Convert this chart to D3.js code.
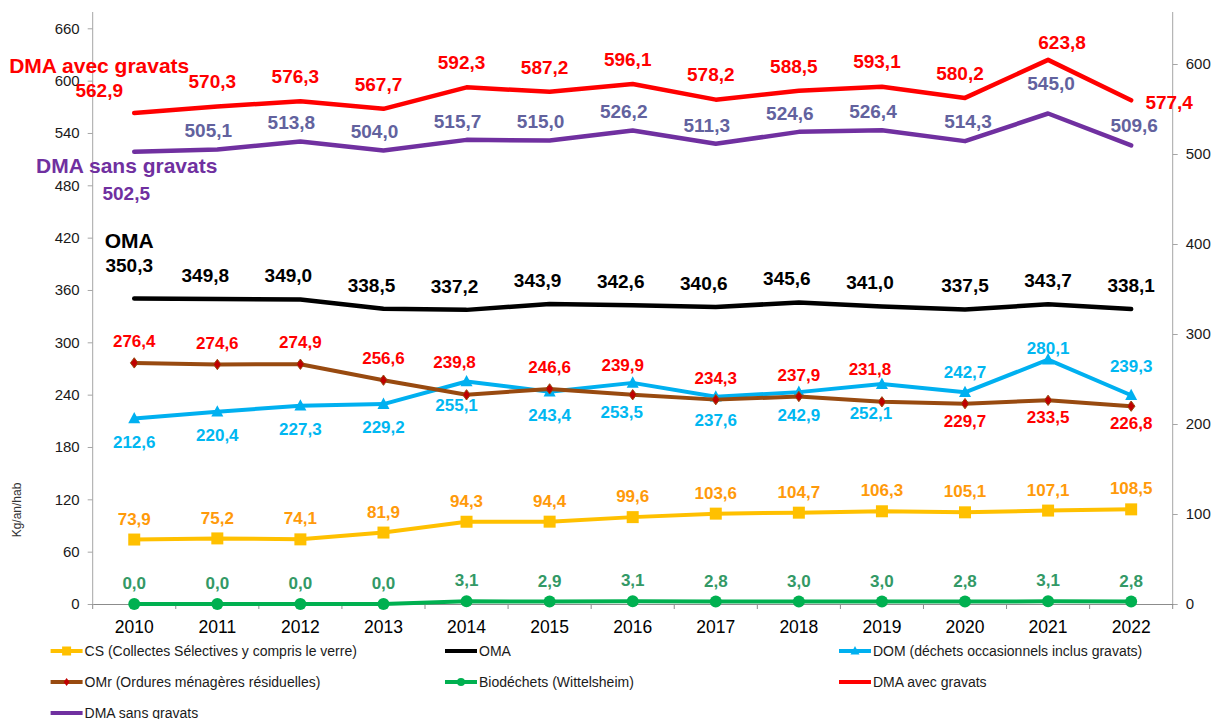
<!DOCTYPE html>
<html><head><meta charset="utf-8">
<script src="https://cdn.jsdelivr.net/npm/d3@7"></script>
<style>body{margin:0;background:#fff}svg{display:block;font-family:Arial,"Liberation Sans",sans-serif}</style>
</head><body><svg id="c" width="1213" height="719"></svg>
<script>
const years = [2010,2011,2012,2013,2014,2015,2016,2017,2018,2019,2020,2021,2022];
const dmaAvec = [562.9,570.3,576.3,567.7,592.3,587.2,596.1,578.2,588.5,593.1,580.2,623.8,577.4];
const dmaSans = [502.5,505.1,513.8,504.0,515.7,515.0,526.2,511.3,524.6,526.4,514.3,545.0,509.6];
const oma = [350.3,349.8,349.0,338.5,337.2,343.9,342.6,340.6,345.6,341.0,337.5,343.7,338.1];
const omr = [276.4,274.6,274.9,256.6,239.8,246.6,239.9,234.3,237.9,231.8,229.7,233.5,226.8];
const dom = [212.6,220.4,227.3,229.2,255.1,243.4,253.5,237.6,242.9,252.1,242.7,280.1,239.3];
const cs = [73.9,75.2,74.1,81.9,94.3,94.4,99.6,103.6,104.7,106.3,105.1,107.1,108.5];
const bio = [0,0,0,0,3.1,2.9,3.1,2.8,3.0,3.0,2.8,3.1,2.8];
const leftTicks = [0,60,120,180,240,300,360,420,480,540,600,660];
const rightTicks = [0,100,200,300,400,500,600];
const seriesNames = {
  cs: "CS (Collectes Sélectives y compris le verre)",
  oma: "OMA",
  dom: "DOM (déchets occasionnels inclus gravats)",
  omr: "OMr (Ordures ménagères résiduelles)",
  bio: "Biodéchets (Wittelsheim)",
  dmaAvec: "DMA avec gravats",
  dmaSans: "DMA sans gravats"
};
const yTitle = "Kg/an/hab";

const svg = d3.select("#c");
const L = 92.7, R = 1172.7, T = 12, B = 604;
const x = d3.scaleBand().domain(years).range([L, R]);
const cx = yr => x(yr) + x.bandwidth()/2;
const yL = d3.scaleLinear().domain([0,660]).range([B, 28.3]);
const yR = d3.scaleLinear().domain([0,600]).range([B, 64]);
const fmt = v => d3.format(".1f")(v).replace(".", ",");
const axisCol = "#a6a6a6";

// Axes
const gl = svg.append("g").attr("transform", `translate(${L},0)`)
  .call(d3.axisLeft(yL).tickValues(leftTicks).tickSize(5).tickPadding(8).tickSizeOuter(0));
const gr = svg.append("g").attr("transform", `translate(${R},0)`)
  .call(d3.axisRight(yR).tickValues(rightTicks).tickSize(5).tickPadding(8).tickSizeOuter(0));
[gl, gr].forEach(g => {
  g.select(".domain").remove();
  g.selectAll(".tick line").attr("stroke", axisCol);
  g.selectAll(".tick text").attr("font-size", 15).attr("fill", "#1a1a1a").attr("font-family", "Arial, Liberation Sans, sans-serif");
});
svg.append("line").attr("x1", L).attr("x2", L).attr("y1", T).attr("y2", B).attr("stroke", axisCol);
svg.append("line").attr("x1", R).attr("x2", R).attr("y1", T).attr("y2", B).attr("stroke", axisCol);

const gx = svg.append("g").attr("transform", `translate(0,${B})`)
  .call(d3.axisBottom(x).tickSize(0).tickPadding(17).tickSizeOuter(0));
gx.select(".domain").attr("stroke", "#8c8c8c");
gx.selectAll(".tick text").attr("font-size", 17.5).attr("fill", "#000").attr("font-family", "Arial, Liberation Sans, sans-serif");
// category boundary ticks
svg.append("g").selectAll("line").data(years.concat(["end"])).join("line")
  .attr("x1", (d,i) => L + i*x.bandwidth()).attr("x2", (d,i) => L + i*x.bandwidth())
  .attr("y1", B).attr("y2", B+5).attr("stroke", "#8c8c8c");

svg.append("text").attr("transform", "translate(21,510) rotate(-90)")
  .attr("text-anchor", "middle").attr("font-size", 12).attr("fill", "#333").text(yTitle);

// Series definitions
const series = [
  {key:"cs", data:cs, y:yL, color:"#ffc000", w:4, marker:"square", lab:"#ff9a0a", fs:17},
  {key:"oma", data:oma, y:yL, color:"#000000", w:4.5, marker:null, lab:"#000000", fs:19},
  {key:"dom", data:dom, y:yL, color:"#00b0f0", w:4, marker:"triangle", lab:"#00b7f1", fs:17},
  {key:"omr", data:omr, y:yL, color:"#984a10", w:4, marker:"diamond", lab:"#ff0000", fs:17},
  {key:"bio", data:bio, y:yL, color:"#00b050", w:4, marker:"circle", lab:"#339966", fs:17},
  {key:"dmaAvec", data:dmaAvec, y:yL, color:"#ff0000", w:4.5, marker:null, lab:"#ff0000", fs:19},
  {key:"dmaSans", data:dmaSans, y:yR, color:"#7030a0", w:4.5, marker:null, lab:"#62629e", fs:19}
];

function markerPath(type, size) {
  const s = size/2;
  if (type === "square") return `M${-s},${-s}H${s}V${s}H${-s}Z`;
  if (type === "triangle") return `M0,${-s*1.1}L${s},${s*0.8}L${-s},${s*0.8}Z`;
  if (type === "diamond") return `M0,${-s*1.15}L${s*0.85},0L0,${s*1.15}L${-s*0.85},0Z`;
  if (type === "circle") return d3.symbol(d3.symbolCircle, Math.PI*s*s)();
  return "";
}
const markerSize = {square:12, triangle:12, diamond:9, circle:12};

const order = ["cs","oma","dom","omr","bio","dmaAvec","dmaSans"];
order.forEach(k => {
  const s = series.find(d => d.key === k);
  const line = d3.line().x((d,i) => cx(years[i])).y(d => s.y(d));
  svg.append("path").datum(s.data).attr("d", line)
    .attr("fill", "none").attr("stroke", s.color).attr("stroke-width", s.w)
    .attr("stroke-linejoin", "round").attr("stroke-linecap", "round");
  if (s.marker) {
    svg.append("g").selectAll("path").data(s.data).join("path")
      .attr("transform", (d,i) => `translate(${cx(years[i])},${s.y(d)})`)
      .attr("d", markerPath(s.marker, markerSize[s.marker]))
      .attr("fill", s.marker === "diamond" ? "#c00000" : s.color)
      .attr("stroke", s.marker === "diamond" ? "#984a10" : "none")
      .attr("stroke-width", 1);
  }
});

// Label placement rules (offsets from the point)
function place(k, i) {
  switch (k) {
    case "dmaAvec":
      if (i === 0) return [-35, -23];
      if (i === 12) return [38, 2];
      if (i === 11) return [14, -18];
      return [-5, -25];
    case "dmaSans":
      if (i === 0) return [-8, 41];
      if (i === 11) return [3, -30];
      if (i >= 10) return [3, -20];
      return [-9, -19];
    case "oma":
      if (i === 0) return [-5, -33];
      if (i >= 10) return [0, -24];
      return [-12, -24];
    case "omr":
      if (i >= 10) return [0, 17];
      if (i === 4 || i === 9) return [-12, -33];
      if (i === 6) return [-10, -30];
      return [0, -22];
    case "dom":
      if (i === 10) return [0, -20];
      if (i === 11) return [0, -12];
      if (i === 12) return [0, -29];
      if (i === 4) return [-10, 23];
      if (i === 6 || i === 9) return [-11, 29];
      return [0, 23];
    default:
      return [0, -21];
  }
}

const labG = svg.append("g").attr("font-weight", "bold").attr("text-anchor", "middle");
series.forEach(s => {
  labG.append("g").selectAll("text").data(s.data).join("text")
    .attr("x", (d,i) => cx(years[i]) + place(s.key, i)[0])
    .attr("y", (d,i) => s.y(d) + place(s.key, i)[1])
    .attr("dy", "0.36em")
    .attr("font-size", s.fs)
    .attr("fill", (d,i) => (s.key === "dmaSans" && i === 0) ? "#7030a0" : s.lab)
    .text(d => fmt(d));
});

// Series name labels near first point
const nameLabs = [
  {s:"dmaAvec", dx:-35, dy:-48, col:"#ff0000"},
  {s:"dmaSans", dx:-7.5, dy:14, col:"#7030a0"},
  {s:"oma", dx:-5, dy:-58, col:"#000000"}
];
nameLabs.forEach(n => {
  const s = series.find(d => d.key === n.s);
  labG.append("text").attr("x", cx(years[0]) + n.dx).attr("y", s.y(s.data[0]) + n.dy)
    .attr("dy", "0.36em").attr("font-size", 21).attr("fill", n.col).text(seriesNames[n.s]);
});

// Legend
const legendItems = [
  {k:"cs", col:0, row:0}, {k:"oma", col:1, row:0}, {k:"dom", col:2, row:0},
  {k:"omr", col:0, row:1}, {k:"bio", col:1, row:1}, {k:"dmaAvec", col:2, row:1},
  {k:"dmaSans", col:0, row:2}
];
const colX = [50.6, 445, 839], rowY = [651, 682, 713];
const legMark = {square:9, triangle:9, diamond:7, circle:8};
legendItems.forEach(it => {
  const s = series.find(d => d.key === it.k);
  const g = svg.append("g").attr("transform", `translate(${colX[it.col]},${rowY[it.row]})`);
  g.append("line").attr("x1", 0).attr("x2", 32).attr("stroke", s.color).attr("stroke-width", 4);
  if (s.marker) g.append("path").attr("transform", "translate(16,0)")
    .attr("d", markerPath(s.marker, legMark[s.marker]))
    .attr("fill", s.marker === "diamond" ? "#c00000" : s.color);
  g.append("text").attr("x", 34).attr("dy", "0.36em").attr("font-size", 14)
    .attr("fill", "#1a1a1a").text(seriesNames[it.k]);
});
</script></body></html>
